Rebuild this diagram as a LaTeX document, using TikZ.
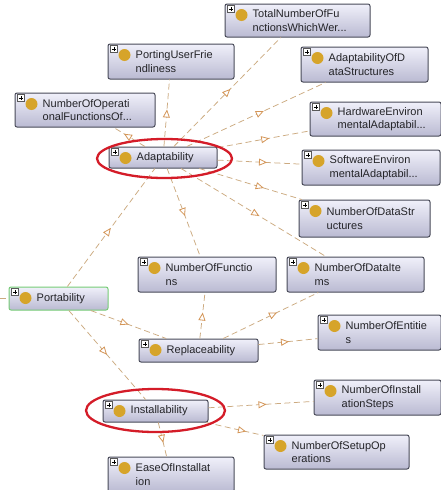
\documentclass[tikz,border=0pt]{standalone}
\usepackage{fontspec}
\setmainfont{Liberation Sans}
\usetikzlibrary{arrows.meta,decorations.markings}

\definecolor{edgecol}{RGB}{204,170,128}
\definecolor{tipcol}{RGB}{212,150,88}
\definecolor{boxline}{RGB}{72,74,88}
\definecolor{boxtop}{RGB}{240,240,250}
\definecolor{boxbot}{RGB}{186,186,210}
\definecolor{classdot}{RGB}{214,164,42}
\definecolor{rootline}{RGB}{118,204,118}
\definecolor{marker}{RGB}{212,28,40}
\definecolor{labeltext}{RGB}{36,36,40}

\tikzset{
  cls/.style={rectangle, rounded corners=2pt, draw=boxline, line width=1pt,
    top color=boxtop, bottom color=boxbot, inner sep=0pt},
  rootcls/.style={cls, draw=rootline},
  lbl/.style={inner sep=0pt, align=left, text=labeltext,
    font=\fontsize{11}{13.5}\selectfont},
  edge/.style={draw=edgecol, line width=0.75pt, dash pattern=on 6pt off 3.5pt},
  midtip/.style={decoration={markings, mark=at position 0.5 with
      {\arrow{Triangle[length=8pt,width=7pt,color=tipcol,fill=white,line width=0.8pt]}}},
    postaction=decorate},
  ring/.style={draw=marker, line width=2.3pt},
  plusbox/.style={draw=gray!70!black, fill=white, line width=0.5pt}
}

% one ontology class box: name, centre x, centre y, width, height, label
\newcommand\ontoclass[7][cls]{%
  \node[#1, minimum width=#5, minimum height=#6] (#2) at (#3,#4) {};
  \node[lbl, anchor=west] (#2-t) at ([xshift=28pt]#2.west) {#7};
  \fill[classdot] ([xshift=17pt,yshift=-11.5pt]#2.north west) circle (6pt);
  \draw[plusbox] ([xshift=3pt,yshift=-2pt]#2.north west) rectangle ++(6.5,6.5);
  \draw[line width=0.5pt] ([xshift=4.3pt,yshift=-5.25pt]#2.north west) -- ++(3.9,0);
  \draw[line width=0.5pt] ([xshift=6.25pt,yshift=-3.3pt]#2.north west) -- ++(0,3.9);
}

% subclass link: dashed line plus an open triangle half-way between centres
\newcommand\isa[2]{%
  \draw[edge] (#1) -- (#2);
  \path[midtip] (#1.center) -- (#2.center);
}

\begin{document}
\begin{tikzpicture}[x=1pt,y=-1pt]
\useasboundingbox (0,0) rectangle (441,490);
\fill[white] (0,0) rectangle (441,490);

\ontoclass{total}{297.5}{20.5}{145}{33}{TotalNumberOfFu\\nctionsWhichWer...}
\ontoclass{porting}{171}{61.5}{126}{35}{PortingUserFrie\\ndliness}
\ontoclass{numop}{85}{110}{140}{34}{NumberOfOperati\\onalFunctionsOf...}
\ontoclass{adapt}{163}{157.5}{108}{21}{Adaptability}
\ontoclass{adods}{364.5}{64.5}{127}{35}{AdaptabilityOfD\\ataStructures}
\ontoclass{hw}{375.5}{119}{131}{34}{HardwareEnviron\\mentalAdaptabil...}
\ontoclass{sw}{371}{167.5}{138}{35}{SoftwareEnviron\\mentalAdaptabil...}
\ontoclass{nds}{364.5}{218.5}{131}{37}{NumberOfDataStr\\uctures}
\ontoclass{nfun}{207}{274.5}{138}{35}{NumberOfFunctio\\ns}
\ontoclass{ndi}{355.5}{274.5}{137}{35}{NumberOfDataIte\\ms}
\ontoclass[rootcls]{port}{58.5}{298.5}{99}{23}{Portability}
\ontoclass{repl}{198.5}{350.5}{119}{23}{Replaceability}
\ontoclass{nent}{379.5}{332.5}{123}{35}{NumberOfEntitie\\s}
\ontoclass{nis}{377.5}{397.5}{127}{35}{NumberOfInstall\\ationSteps}
\ontoclass{nso}{336.5}{452}{145}{34}{NumberOfSetupOp\\erations}
\ontoclass{inst}{155.5}{411}{105}{22}{Installability}
\ontoclass{ease}{171}{474.5}{126}{35}{EaseOfInstallat\\ion}

% links
\coordinate (portl) at (0,298.5);
\draw[edge] (portl) -- (port);
\isa{adapt}{numop}
\isa{adapt}{porting}
\isa{adapt}{total}
\isa{adapt}{adods}
\isa{adapt}{hw}
\isa{adapt}{sw}
\isa{adapt}{nds}
\isa{adapt}{nfun}
\isa{adapt}{ndi}
\isa{port}{adapt}
\isa{port}{repl}
\isa{port}{inst}
\isa{repl}{nfun}
\isa{repl}{ndi}
\isa{repl}{nent}
\isa{inst}{nis}
\isa{inst}{nso}
\isa{inst}{ease}

% hand-drawn highlight rings
\draw[ring] (164.5,158.5) ellipse [x radius=67.5, y radius=19.5];
\draw[ring] (155.5,410.5) ellipse [x radius=69.5, y radius=21.5];
\end{tikzpicture}
\end{document}
